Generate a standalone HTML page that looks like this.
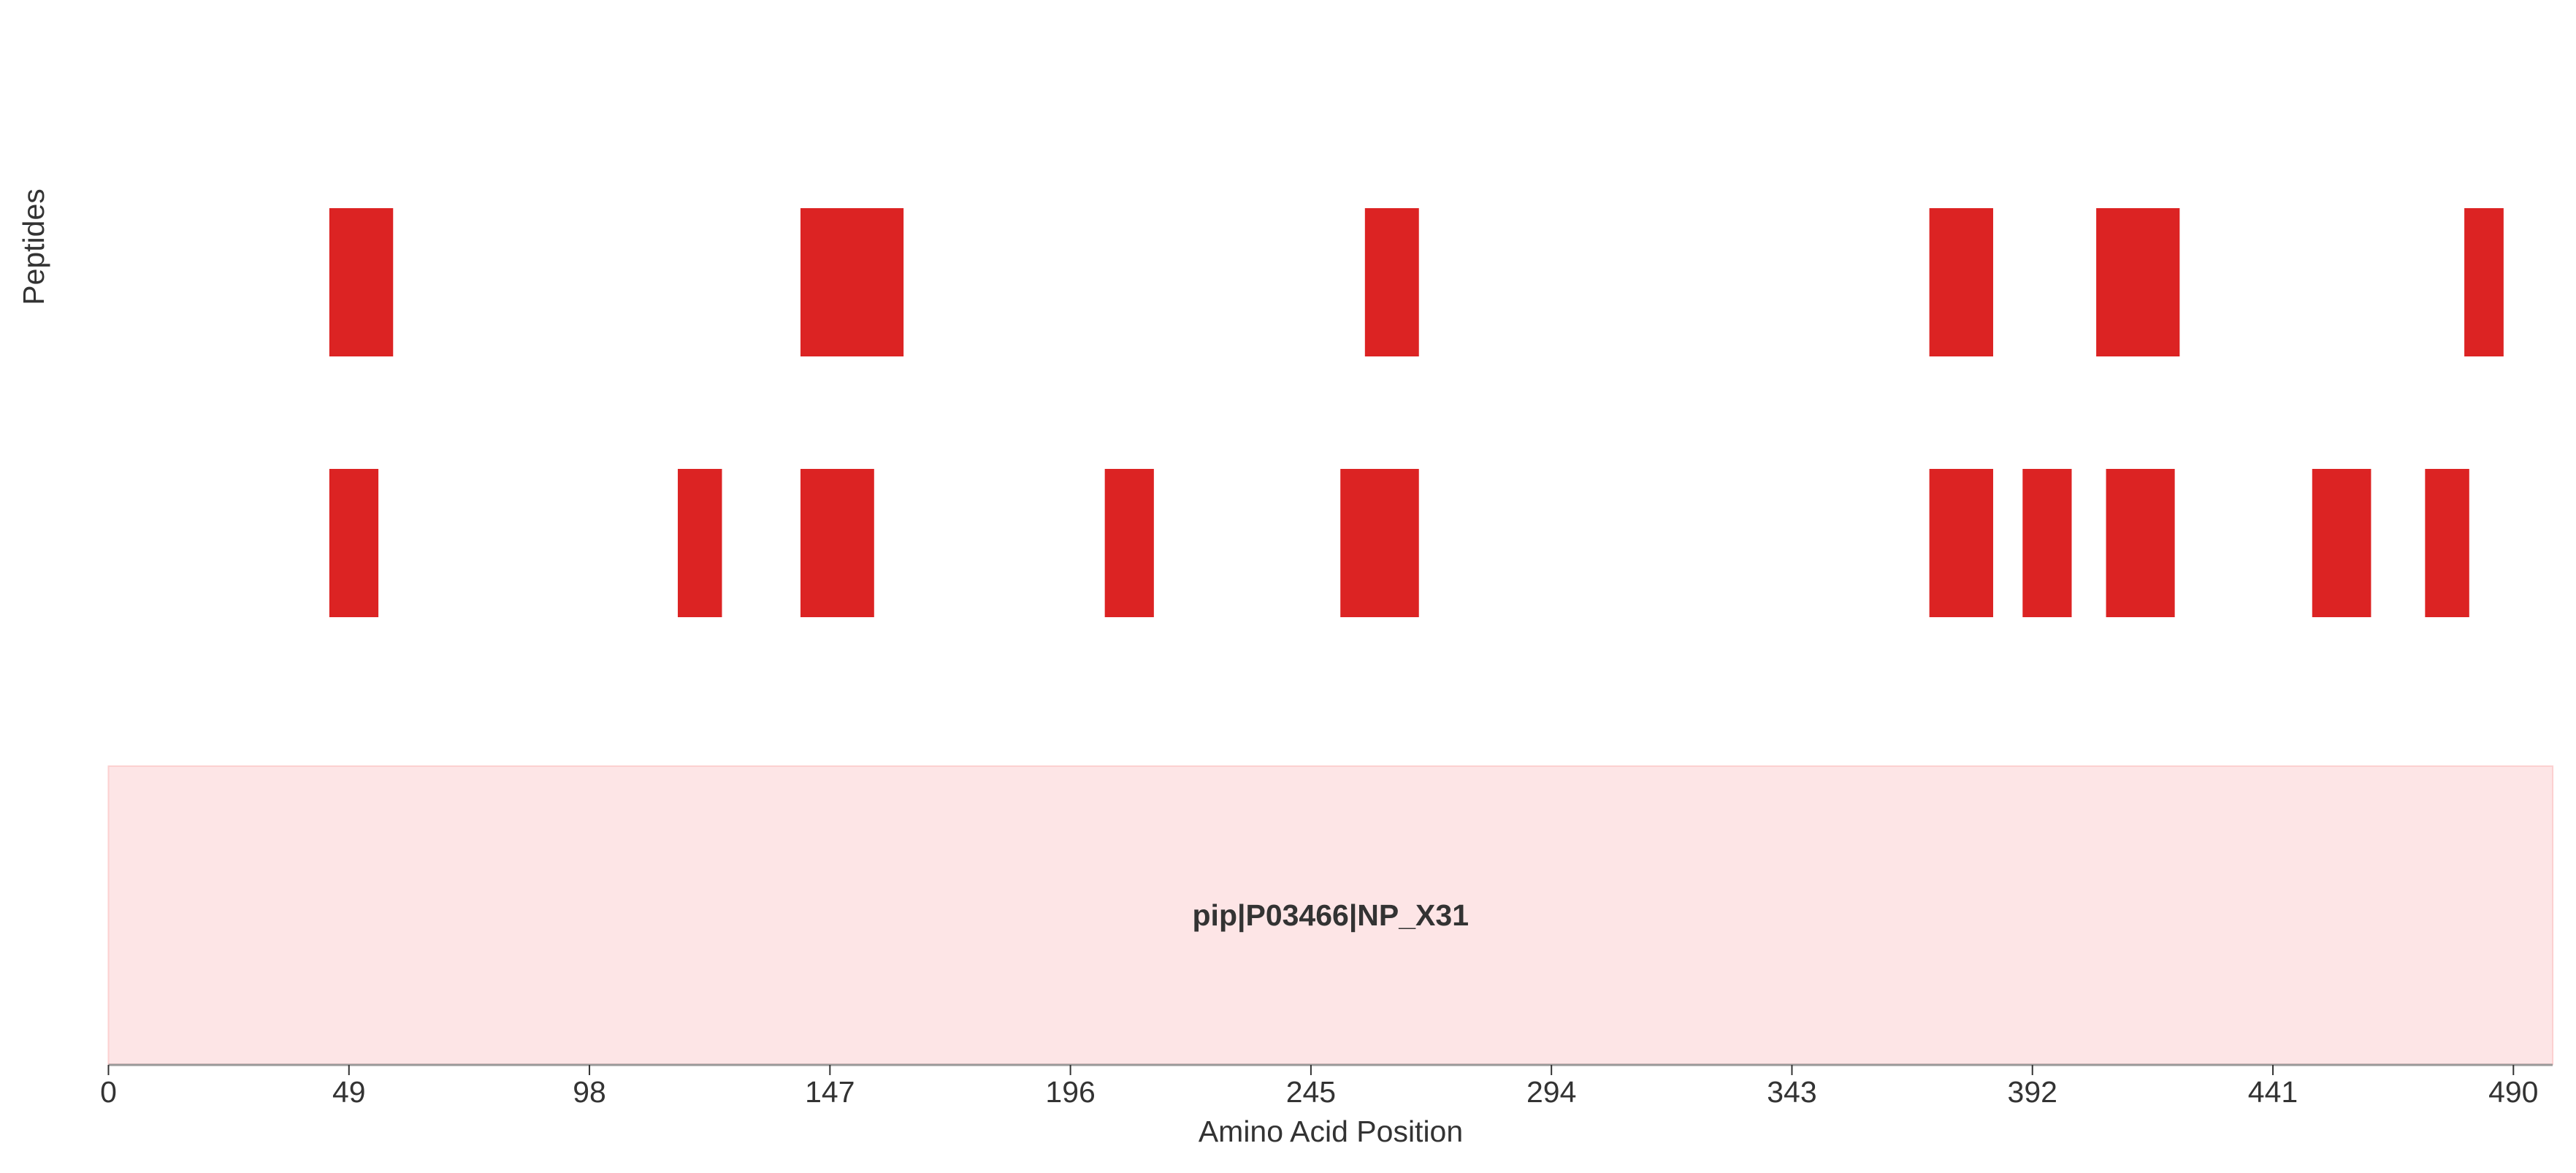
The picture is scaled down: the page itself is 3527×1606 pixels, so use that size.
<!DOCTYPE html>
<html><head><meta charset="utf-8"><style>
html,body{margin:0;padding:0;background:#fff}
svg text{font-family:"Liberation Sans",Arial,sans-serif;fill:#333}
</style></head><body>
<svg id="chart" width="3527" height="1601" viewBox="0 0 3527 1601">
<g id="marks"></g>
<g id="axis"></g>
</svg>
<script>
const row1Starts=[45,141,256,371,405,480];
const row1Ends=[58,162,267,384,422,488];
const row2Starts=[45,116,141,203,251,371,390,407,449,472];
const row2Ends=[55,125,156,213,267,384,400,421,461,481];
const tickValues=[0,49,98,147,196,245,294,343,392,441,490];
const proteinLength=[498];
const proteinName=["pip|P03466|NP_X31"];

const NS="http://www.w3.org/2000/svg";
const x0=148.5, k=6.72;
function xs(v){return x0+v*k;}
const rowTop=[285,642], rowH=203;
const marks=document.getElementById('marks');
const axis=document.getElementById('axis');
function mk(tag,attrs,parent){const e=document.createElementNS(NS,tag);for(const a in attrs)e.setAttribute(a,attrs[a]);parent.appendChild(e);return e;}

[[row1Starts,row1Ends],[row2Starts,row2Ends]].forEach((r,ri)=>{
  r[0].forEach((s,i)=>{
    const el=mk('rect',{x:xs(s),y:rowTop[ri],width:xs(r[1][i])-xs(s),height:rowH,fill:'#dc2323'},marks);
    
    
  });
});

const prot=mk('rect',{x:xs(0),y:1049,width:xs(proteinLength[0])-xs(0),height:408,fill:'#fde5e6',stroke:'#fcd0d0','stroke-width':2},marks);


const pl=mk('text',{x:(xs(0)+xs(proteinLength[0]))/2,y:1267,'text-anchor':'middle','font-size':41,'font-weight':'bold'},marks);
pl.textContent=proteinName[0];



const ax=mk('line',{x1:xs(0),x2:xs(proteinLength[0]),y1:1458,y2:1458,stroke:'#999','stroke-width':3},axis);


tickValues.forEach(v=>{
  const t=mk('line',{x1:xs(v),x2:xs(v),y1:1458,y2:1472,stroke:'#333','stroke-width':2},axis);
  
  
  const l=mk('text',{x:xs(v),y:1509,'text-anchor':'middle','font-size':41},axis);
  l.textContent=v;
  
  
});
const xt=mk('text',{x:1822,y:1563,'text-anchor':'middle','font-size':41},axis);
xt.textContent='Amino Acid Position';


const yt=mk('text',{x:0,y:0,'text-anchor':'middle','font-size':41,transform:'translate(60,338) rotate(-90)'},axis);
yt.textContent='Peptides';


</script>
</body></html>
